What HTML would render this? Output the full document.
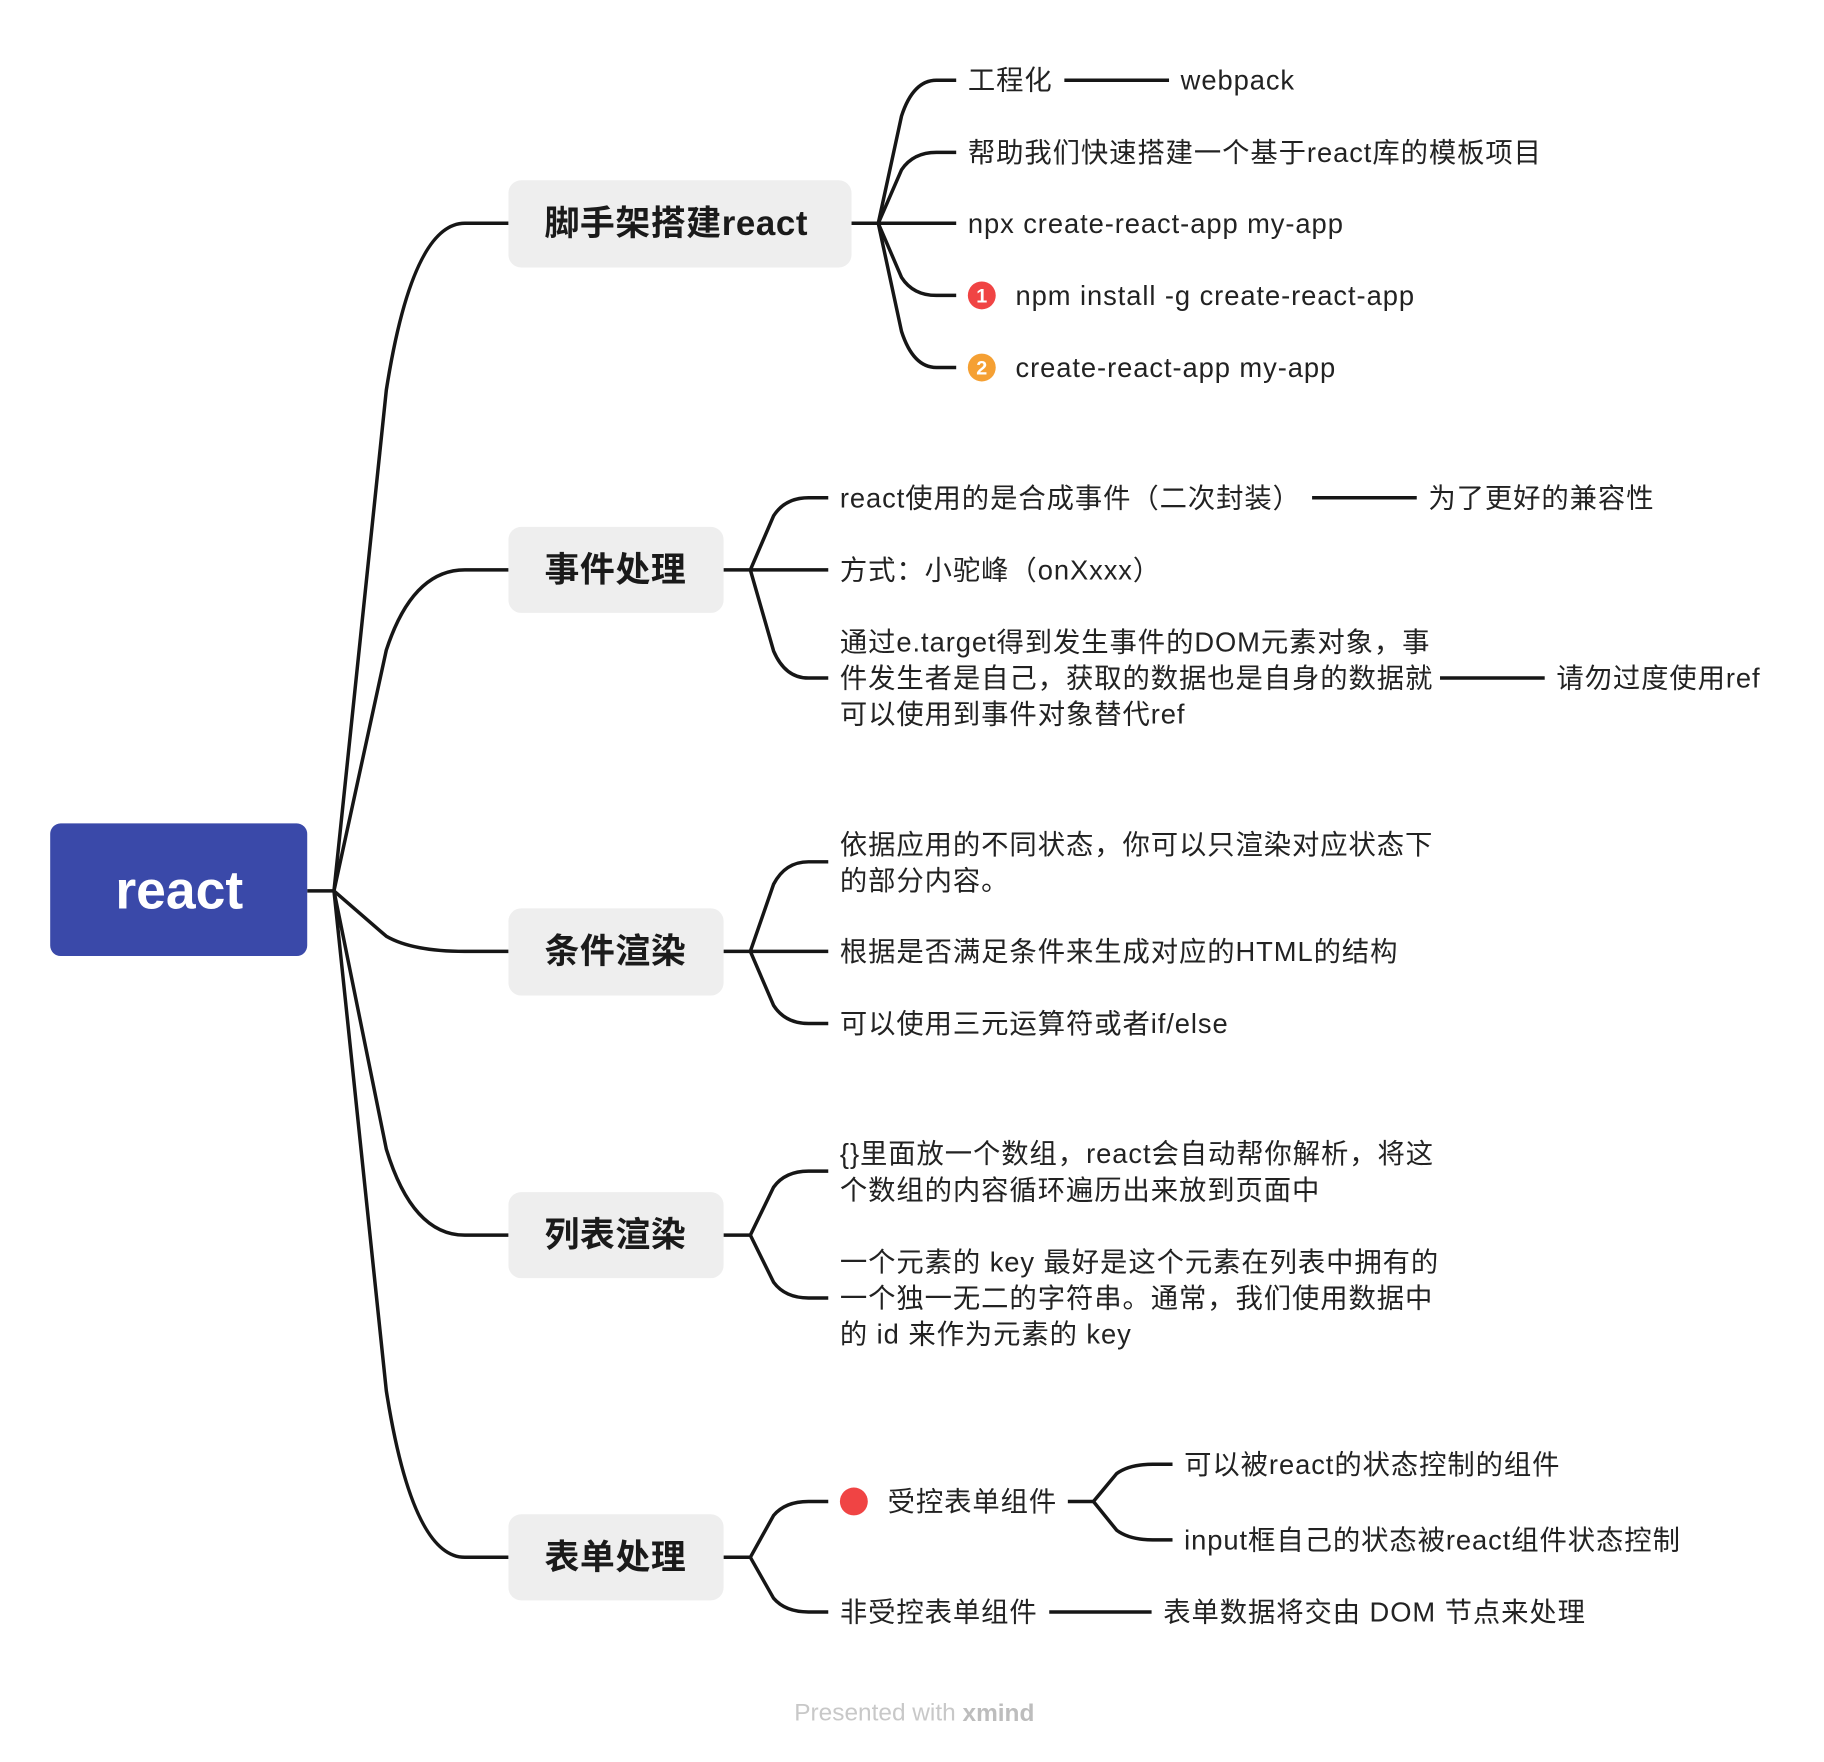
<!DOCTYPE html>
<html><head><meta charset="utf-8"><style>
html,body{margin:0;padding:0;background:#fff;}
svg{display:block;}
text{font-family:"Liberation Sans","Noto Sans CJK SC",sans-serif;fill:#222;dominant-baseline:central;}
.c{font-size:23.5px;letter-spacing:0.8px;}
.n{font-size:30px;font-weight:bold;fill:#1a1a1a;letter-spacing:0.5px;}
</style></head><body>
<svg width="1824" height="1762" viewBox="0 0 1568 1515" xmlns="http://www.w3.org/2000/svg">
<g fill="none" stroke="#161616" stroke-width="3" stroke-linecap="butt">
<path d="M264,766 L287,766"/>
<path d="M287,766 L332,335.5 Q354.5,192 399.5,192 L437,192"/>
<path d="M287,766 L332,559 Q354.5,490 399.5,490 L437,490"/>
<path d="M287,766 L332,805 Q354.5,818 399.5,818 L437,818"/>
<path d="M287,766 L332,988 Q354.5,1062 399.5,1062 L437,1062"/>
<path d="M287,766 L332,1195.75 Q354.5,1339 399.5,1339 L437,1339"/>
<path d="M732,192 L755,192"/>
<path d="M755,192 L775,99.75 Q785,69 805,69 L822,69"/>
<path d="M755,192 L775,146 Q785,131 805,131 L822,131"/>
<path d="M755,192 L822,192"/>
<path d="M755,192 L775,238.5 Q785,254 805,254 L822,254"/>
<path d="M755,192 L775,285 Q785,316 805,316 L822,316"/>
<path d="M915,69 L1005,69"/>
<path d="M622,490 L645,490"/>
<path d="M645,490 L665,443.5 Q675,428 695,428 L712,428"/>
<path d="M645,490 L712,490"/>
<path d="M645,490 L665,559.75 Q675,583 695,583 L712,583"/>
<path d="M1128,428 L1218,428"/>
<path d="M1238,583 L1328,583"/>
<path d="M622,818 L645,818"/>
<path d="M645,818 L665,760.25 Q675,741 695,741 L712,741"/>
<path d="M645,818 L712,818"/>
<path d="M645,818 L665,864.5 Q675,880 695,880 L712,880"/>
<path d="M622,1062 L645,1062"/>
<path d="M645,1062 L665,1020.75 Q675,1007 695,1007 L712,1007"/>
<path d="M645,1062 L665,1102.5 Q675,1116 695,1116 L712,1116"/>
<path d="M622,1339 L645,1339"/>
<path d="M645,1339 L665,1303 Q675,1291 695,1291 L712,1291"/>
<path d="M645,1339 L665,1374.25 Q675,1386 695,1386 L712,1386"/>
<path d="M918,1291 L940,1291"/>
<path d="M940,1291 L960,1267 Q971,1259 991,1259 L1008,1259"/>
<path d="M940,1291 L960,1315.75 Q971,1324 991,1324 L1008,1324"/>
<path d="M902,1386 L990,1386"/>
</g>
<rect x="43" y="708" width="221" height="114" rx="9" fill="#3a49a9"/>
<text x="154" y="766" text-anchor="middle" style="font-size:46px;font-weight:bold;fill:#fff">react</text>
<rect x="437" y="155" width="295" height="75" rx="11" fill="#eeeeee"/>
<text class="n" x="468" y="192">脚手架搭建react</text>
<rect x="437" y="453" width="185" height="74" rx="11" fill="#eeeeee"/>
<text class="n" x="468" y="490">事件处理</text>
<rect x="437" y="781" width="185" height="75" rx="11" fill="#eeeeee"/>
<text class="n" x="468" y="818">条件渲染</text>
<rect x="437" y="1025" width="185" height="74" rx="11" fill="#eeeeee"/>
<text class="n" x="468" y="1062">列表渲染</text>
<rect x="437" y="1302" width="185" height="74" rx="11" fill="#eeeeee"/>
<text class="n" x="468" y="1339">表单处理</text>

<text class="c" x="832" y="69">工程化</text>
<text class="c" x="1015" y="69">webpack</text>
<text class="c" x="832" y="131">帮助我们快速搭建一个基于react库的模板项目</text>
<text class="c" x="832" y="192">npx create-react-app my-app</text>
<circle cx="844" cy="254" r="12" fill="#f04444"/>
<text x="844" y="255" text-anchor="middle" style="font-size:17px;font-weight:bold;fill:#fff">1</text>
<text class="c" x="873" y="254">npm install -g create-react-app</text>
<circle cx="844" cy="316" r="12" fill="#f5a033"/>
<text x="844" y="317" text-anchor="middle" style="font-size:17px;font-weight:bold;fill:#fff">2</text>
<text class="c" x="873" y="316">create-react-app my-app</text>

<text class="c" x="722" y="428">react使用的是合成事件（二次封装）</text>
<text class="c" x="1228" y="428">为了更好的兼容性</text>
<text class="c" x="722" y="490">方式：小驼峰（onXxxx）</text>
<text class="c" x="722" y="552">通过e.target得到发生事件的DOM元素对象，事</text>
<text class="c" x="722" y="583">件发生者是自己，获取的数据也是自身的数据就</text>
<text class="c" x="722" y="614">可以使用到事件对象替代ref</text>
<text class="c" x="1338" y="583">请勿过度使用ref</text>

<text class="c" x="722" y="726">依据应用的不同状态，你可以只渲染对应状态下</text>
<text class="c" x="722" y="757">的部分内容。</text>
<text class="c" x="722" y="818">根据是否满足条件来生成对应的HTML的结构</text>
<text class="c" x="722" y="880">可以使用三元运算符或者if/else</text>

<text class="c" x="722" y="992">{}里面放一个数组，react会自动帮你解析，将这</text>
<text class="c" x="722" y="1023">个数组的内容循环遍历出来放到页面中</text>
<text class="c" x="722" y="1085">一个元素的 key 最好是这个元素在列表中拥有的</text>
<text class="c" x="722" y="1116">一个独一无二的字符串。通常，我们使用数据中</text>
<text class="c" x="722" y="1147">的 id 来作为元素的 key</text>

<circle cx="734" cy="1291" r="12" fill="#f04444"/>
<text class="c" x="763" y="1291">受控表单组件</text>
<text class="c" x="1018" y="1259">可以被react的状态控制的组件</text>
<text class="c" x="1018" y="1324">input框自己的状态被react组件状态控制</text>
<text class="c" x="722" y="1386">非受控表单组件</text>
<text class="c" x="1000" y="1386">表单数据将交由 DOM 节点来处理</text>

<text x="786" y="1473" text-anchor="middle" style="font-size:21px;fill:#c8c8c8">Presented with <tspan style="font-weight:bold;fill:#bdbdbd">xmind</tspan></text>
</svg>
</body></html>
